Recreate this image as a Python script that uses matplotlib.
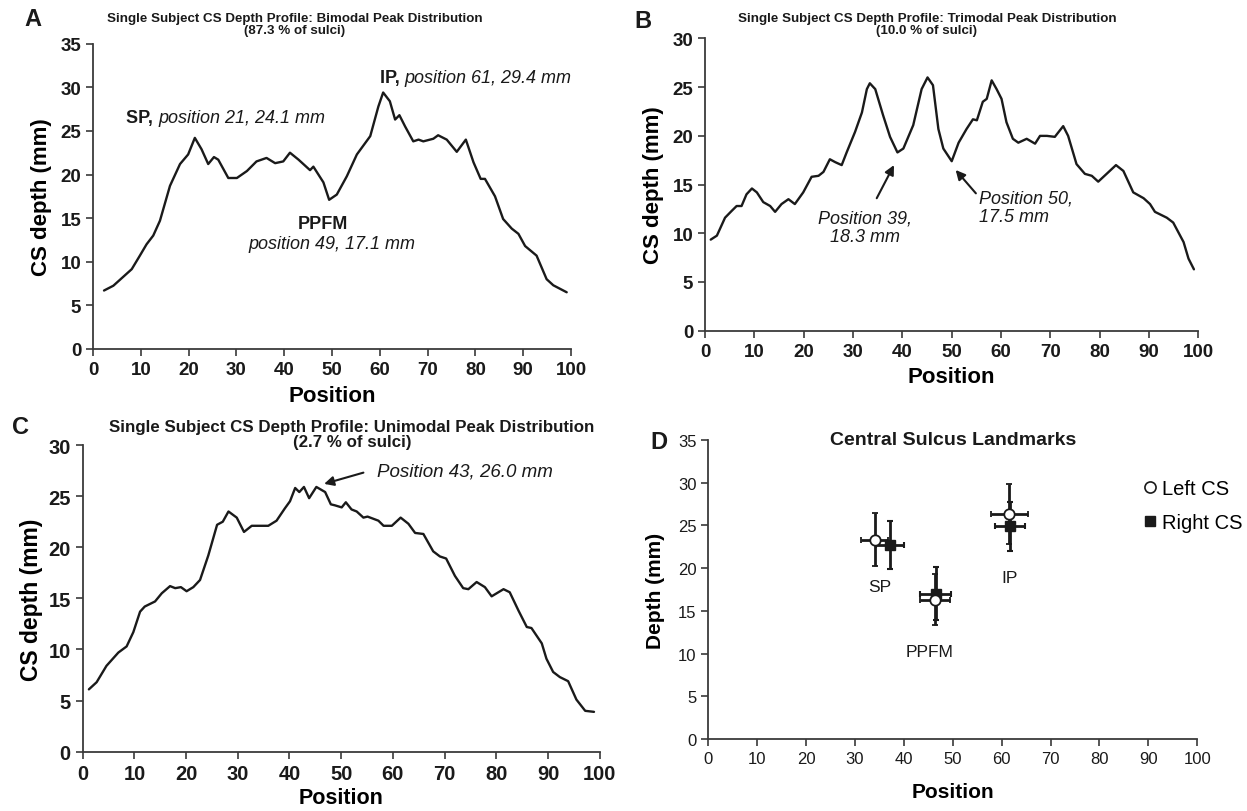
import matplotlib
matplotlib.use("Agg")
import matplotlib.pyplot as plt
from matplotlib.lines import Line2D

plt.rcParams["font.family"] = ["Liberation Sans", "DejaVu Sans"]

# ===== 数据 =====
# panel A: bimodal profile
a_pos = [2.3, 4.25, 8.1, 9.8, 11.2, 12.6, 14.0, 16.1, 18.2, 19.9, 21.3, 22.7, 24.1, 25.3,
         26.2, 28.3, 30.1, 32.2, 34.2, 36.3, 38.1, 39.8, 41.2, 43.0, 45.4, 46.1, 48.2,
         49.4, 51.0, 53.1, 55.2, 58.0, 59.7, 60.7, 62.1, 63.2, 64.1, 65.3, 67.0, 68.1,
         69.1, 71.2, 72.2, 74.0, 76.1, 78.0, 79.6, 81.1, 82.0, 84.1, 85.8, 87.6, 89.0,
         90.4, 92.8, 94.9, 96.3, 99.1]
a_depth = [6.7, 7.25, 9.15, 10.7, 12.0, 13.0, 14.7, 18.7, 21.2, 22.3, 24.2, 22.9, 21.2, 22.0,
           21.7, 19.6, 19.6, 20.4, 21.5, 21.9, 21.3, 21.5, 22.5, 21.7, 20.5, 20.9, 19.1,
           17.1, 17.7, 19.8, 22.3, 24.4, 27.8, 29.4, 28.4, 26.3, 26.8, 25.5, 23.8, 24.0,
           23.8, 24.1, 24.5, 24.0, 22.6, 24.0, 21.4, 19.5, 19.5, 17.5, 14.9, 13.8, 13.2,
           11.8, 10.7, 8.0, 7.3, 6.5]

# panel B: trimodal profile
b_pos = [1.15, 2.4, 4.05, 5.4, 6.4, 7.4, 8.4, 9.5, 10.5, 11.8, 13.2, 14.2, 15.5, 16.9, 18.2,
         19.9, 21.6, 23.0, 24.0, 25.3, 26.4, 27.7, 28.7, 30.4, 31.8, 32.8, 33.4, 34.5, 36.1,
         37.5, 39.0, 40.2, 42.2, 43.9, 45.1, 46.2, 47.3, 48.3, 50.0, 51.4, 53.0, 54.3, 55.1,
         56.3, 57.1, 58.1, 59.1, 60.1, 61.1, 62.4, 63.5, 65.2, 66.9, 67.9, 69.3, 70.9, 72.6,
         73.6, 75.3, 77.0, 78.4, 79.7, 81.4, 83.3, 84.8, 86.8, 88.9, 90.2, 91.2, 93.6, 94.9,
         97.0, 98.0, 99.1]
b_depth = [9.35, 9.76, 11.6, 12.3, 12.8, 12.8, 14.0, 14.6, 14.2, 13.2, 12.8, 12.2, 13.0, 13.5,
           13.0, 14.2, 15.8, 15.9, 16.3, 17.6, 17.3, 17.0, 18.3, 20.4, 22.4, 24.8, 25.4, 24.8,
           22.1, 19.9, 18.3, 18.7, 21.1, 24.8, 26.0, 25.2, 20.7, 18.7, 17.4, 19.3, 20.7, 21.7,
           21.6, 23.5, 23.8, 25.7, 24.8, 23.8, 21.4, 19.7, 19.3, 19.7, 19.2, 20.0, 20.0, 19.9,
           21.0, 20.0, 17.1, 16.1, 15.9, 15.3, 16.1, 17.0, 16.4, 14.2, 13.6, 13.0, 12.2, 11.6,
           11.1, 9.1, 7.4, 6.3]

# panel C: unimodal profile
c_pos = [1.2, 2.7, 4.6, 6.9, 8.5, 9.8, 11.1, 12.0, 14.0, 15.3, 16.9, 17.9, 19.0, 20.1, 21.4,
         22.7, 24.3, 26.0, 27.1, 28.2, 29.8, 31.2, 32.7, 35.9, 37.5, 39.1, 40.1, 41.1, 41.9,
         42.8, 43.8, 45.2, 46.9, 48.0, 48.8, 50.1, 50.9, 52.0, 53.0, 54.3, 55.1, 57.2, 58.2,
         59.8, 61.5, 63.0, 64.3, 65.9, 67.8, 69.1, 70.3, 72.0, 73.6, 74.6, 76.2, 77.8, 79.1,
         81.4, 82.6, 84.3, 85.9, 86.8, 88.8, 89.7, 91.0, 92.3, 93.9, 95.5, 97.2, 98.9]
c_depth = [6.1, 6.8, 8.4, 9.7, 10.3, 11.7, 13.7, 14.2, 14.7, 15.5, 16.2, 16.0, 16.1, 15.7, 16.1,
           16.8, 19.2, 22.2, 22.5, 23.5, 22.9, 21.5, 22.1, 22.1, 22.6, 23.8, 24.5, 25.8, 25.4,
           25.9, 24.8, 25.9, 25.4, 24.2, 24.1, 23.9, 24.4, 23.7, 23.5, 22.9, 23.0, 22.6, 22.1,
           22.1, 22.9, 22.3, 21.4, 21.3, 19.6, 19.1, 18.9, 17.2, 16.0, 15.9, 16.6, 16.1, 15.2,
           15.9, 15.6, 13.8, 12.2, 12.1, 10.6, 9.1, 7.8, 7.3, 6.9, 5.1, 4.0, 3.9]

# panel D: landmarks (mean +/- sd)
landmarks = ["SP", "PPFM", "IP"]
left_pos = [34.0, 46.4, 61.6]
left_depth = [23.3, 16.3, 26.3]
left_xerr = [2.8, 3.1, 3.7]
left_yerr = [3.1, 3.0, 3.5]
right_pos = [37.2, 46.5, 61.7]
right_depth = [22.7, 17.0, 24.9]
right_xerr = [2.9, 3.1, 3.1]
right_yerr = [2.8, 3.1, 2.9]

INK = "#1a1a1a"
AXC = "#3a3a3a"


def style_axes(ax, ymax, tick_size, bold=True):
    for s in ("top", "right"):
        ax.spines[s].set_visible(False)
    for s in ("left", "bottom"):
        ax.spines[s].set_color(AXC)
        ax.spines[s].set_linewidth(1.3)
    ax.set_xlim(0, 100)
    ax.set_ylim(0, ymax)
    ax.set_xticks(range(0, 101, 10))
    ax.set_yticks(range(0, ymax + 1, 5))
    ax.tick_params(direction="out", length=5, width=1.2, color=AXC,
                   labelsize=tick_size, labelcolor=INK)
    if bold:
        for lb in ax.get_xticklabels() + ax.get_yticklabels():
            lb.set_fontweight("bold")


def mixed_text(ax, x, y, parts, size):
    """draw pieces of text one after another (bold + italic)"""
    fig = ax.figure
    r = fig.canvas.get_renderer()
    disp = ax.transData.transform((x, y))
    for txt, kw in parts:
        t = fig.text(disp[0] / fig.bbox.width, disp[1] / fig.bbox.height, txt,
                     fontsize=size, va="center", ha="left", color=INK, **kw)
        bb = t.get_window_extent(renderer=r)
        disp = (bb.x1, disp[1])


def profile(ax, xs, ys):
    ax.plot(xs, ys, color=INK, lw=1.7, solid_joinstyle="round", solid_capstyle="round")


fig = plt.figure(figsize=(12.47, 8.12), dpi=100)

# ----- A -----
axA = fig.add_axes([0.0746, 0.569, 0.3833, 0.376])
profile(axA, a_pos, a_depth)
style_axes(axA, 35, 13.5)
axA.set_xlabel("Position", fontsize=16, fontweight="bold", labelpad=5)
axA.set_ylabel("CS depth (mm)", fontsize=16, fontweight="bold", labelpad=6)
fig.text(295 / 1247, 1 - 25 / 812, "Single Subject CS Depth Profile: Bimodal Peak Distribution\n(87.3 % of sulci)",
         ha="center", va="center", fontsize=9.6, fontweight="bold", color=INK, linespacing=1.05)
fig.text(24 / 1247, 1 - 20 / 812, "A", fontsize=17, fontweight="bold", va="center", color=INK)

# ----- B -----
axB = fig.add_axes([0.5654, 0.5915, 0.3956, 0.3599])
profile(axB, b_pos, b_depth)
style_axes(axB, 30, 13.5)
axB.set_xlabel("Position", fontsize=16, fontweight="bold", labelpad=5)
axB.set_ylabel("CS depth (mm)", fontsize=16, fontweight="bold", labelpad=6)
fig.text(927 / 1247, 1 - 25 / 812, "Single Subject CS Depth Profile: Trimodal Peak Distribution\n(10.0 % of sulci)",
         ha="center", va="center", fontsize=9.6, fontweight="bold", color=INK, linespacing=1.05)
fig.text(634 / 1247, 1 - 22 / 812, "B", fontsize=17, fontweight="bold", va="center", color=INK)

# ----- C -----
axC = fig.add_axes([0.0663, 0.073, 0.4146, 0.3777])
profile(axC, c_pos, c_depth)
style_axes(axC, 30, 14.5)
axC.set_xlabel("Position", fontsize=15.5, fontweight="bold", labelpad=3)
axC.set_ylabel("CS depth (mm)", fontsize=16.5, fontweight="bold", labelpad=4)
fig.text(352 / 1247, 1 - 435 / 812, "Single Subject CS Depth Profile: Unimodal Peak Distribution\n(2.7 % of sulci)",
         ha="center", va="center", fontsize=12.2, fontweight="bold", color=INK, linespacing=1.0)
fig.text(12 / 1247, 1 - 428 / 812, "C", fontsize=17, fontweight="bold", va="center", color=INK)

# ----- D -----
axD = fig.add_axes([0.568, 0.0887, 0.3921, 0.3682])
style_axes(axD, 35, 12, bold=False)
axD.errorbar(left_pos, left_depth, xerr=left_xerr, yerr=left_yerr, fmt="o", ms=7.5,
             mfc="white", mec=INK, mew=1.3, ecolor=INK, elinewidth=2, capsize=2,
             capthick=1.5, zorder=3)
axD.errorbar(right_pos, right_depth, xerr=right_xerr, yerr=right_yerr, fmt="s", ms=7,
             mfc=INK, mec=INK, ecolor=INK, elinewidth=2, capsize=2, capthick=1.5, zorder=2)
label_pos = [35.1, 45.3, 61.6]
label_depth = [17.9, 10.2, 18.9]
for name, x, y in zip(landmarks, label_pos, label_depth):
    axD.text(x, y, name, ha="center", va="center", fontsize=12.5, color=INK)
axD.text(0.5, 1.0, "Central Sulcus Landmarks", transform=axD.transAxes, ha="center",
         va="center", fontsize=14, fontweight="bold", color=INK)
axD.set_xlabel("Position", fontsize=15, fontweight="bold", labelpad=12)
axD.set_ylabel("Depth (mm)", fontsize=15, fontweight="bold", labelpad=9)
handles = [Line2D([], [], ls="", marker="o", ms=8, mfc="white", mec=INK, mew=1.2),
           Line2D([], [], ls="", marker="s", ms=7.5, mfc=INK, mec=INK)]
fig.legend(handles, ["Left CS", "Right CS"], loc="upper left",
           bbox_to_anchor=(1132 / 1247, 1 - 472 / 812), frameon=False, fontsize=14.5,
           handletextpad=0.1, handlelength=1.0, labelspacing=0.75, borderaxespad=0)
fig.text(650 / 1247, 1 - 443 / 812, "D", fontsize=17, fontweight="bold", va="center", color=INK)

# ----- annotations -----
fig.canvas.draw()
mixed_text(axA, 7.0, 26.5, [("SP, ", dict(fontweight="bold")),
                            ("position 21, 24.1 mm", dict(fontstyle="italic"))], 13)
mixed_text(axA, 60.0, 31.1, [("IP, ", dict(fontweight="bold")),
                             ("position 61, 29.4 mm", dict(fontstyle="italic"))], 13)
axA.text(48.2, 14.4, "PPFM", ha="center", va="center", fontsize=13, fontweight="bold", color=INK)
axA.text(50.0, 12.1, "position 49, 17.1 mm", ha="center", va="center", fontsize=13,
         fontstyle="italic", color=INK)

arrow = dict(arrowstyle="-|>", color=INK, lw=1.5, mutation_scale=14, shrinkA=0, shrinkB=0)
axB.annotate("", xy=(38.3, 17.0), xytext=(34.8, 13.6), arrowprops=arrow)
axB.text(32.4, 10.6, "Position 39,\n18.3 mm", ha="center", va="center", fontsize=13,
         fontstyle="italic", color=INK, linespacing=1.1)
axB.annotate("", xy=(50.8, 16.5), xytext=(54.9, 14.1), arrowprops=arrow)
axB.text(55.5, 12.7, "Position 50,\n17.5 mm", ha="left", va="center", fontsize=13,
         fontstyle="italic", color=INK, linespacing=1.1)

axC.annotate("", xy=(46.7, 26.2), xytext=(54.3, 27.3), arrowprops=arrow)
axC.text(57.0, 27.5, "Position 43, 26.0 mm", ha="left", va="center", fontsize=13.5,
         fontstyle="italic", color=INK)

fig.savefig("out.png", dpi=100)
